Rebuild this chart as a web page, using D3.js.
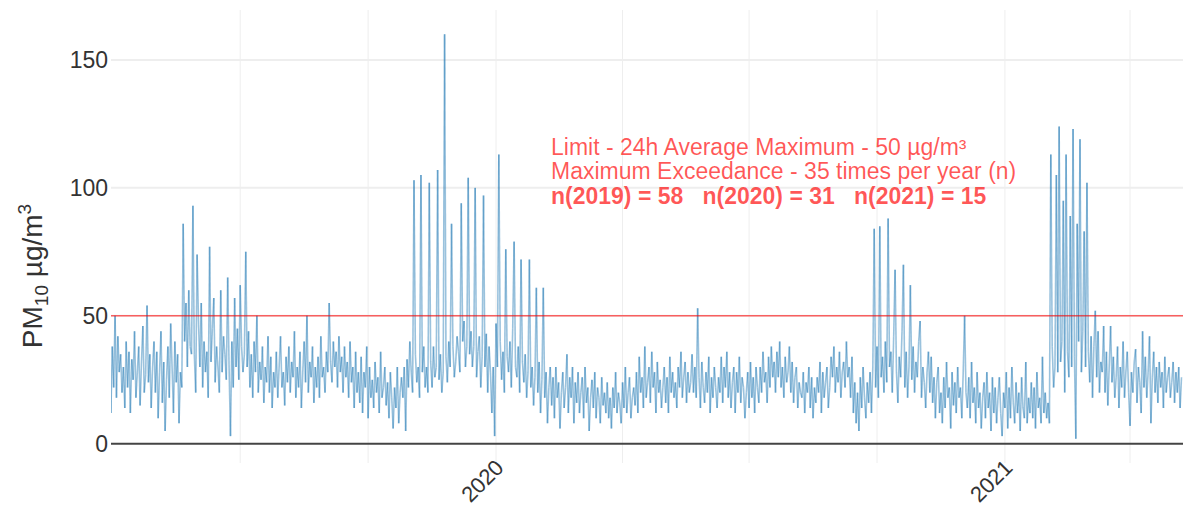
<!DOCTYPE html>
<html>
<head>
<meta charset="utf-8">
<script src="https://cdn.jsdelivr.net/npm/d3@7"></script>
<style>
  body { margin: 0; background: #fff; }
  text { font-family: "Liberation Sans", Arial, sans-serif; }
</style>
</head>
<body>
<div id="chart"></div>
<script>
// daily PM10 means in µg/m³, the first value is the 29th of March 2019
var startDate = new Date(2019, 2, 29);

var pm10_2019 = [
  56, 12, 38, 22, 50, 18, 42, 28, 35, 20,
  30, 14, 40, 22, 36, 12, 33, 25, 44, 18,
  28, 38, 15, 32, 46, 20, 27, 54, 24, 35,
  14, 30, 40, 20, 36, 10, 28, 44, 16, 32,
  5, 25, 38, 18, 47, 30, 12, 40, 24, 35,
  8, 28, 22, 86, 40, 55, 30, 60, 38, 35,
  93, 35, 20, 74, 48, 30, 55, 22, 40, 28,
  36, 18, 77, 32, 45, 57, 24, 38, 30, 20,
  60, 28, 42, 35, 25, 65, 30, 3, 40, 22,
  57, 30, 45, 25, 62, 38, 28, 35, 75, 30,
  44, 22, 35, 18, 40, 28, 50, 20, 32, 25,
  38, 16, 30, 24, 42, 20, 34, 14, 28, 22,
  36, 18, 30, 42, 22, 28, 15, 34, 24, 38,
  20, 32, 26, 44, 18, 30, 22, 36, 14, 28,
  40, 24, 50, 20, 32, 26, 38, 16, 30, 22,
  34, 18, 42, 26, 30, 20, 36, 28, 55, 32,
  24, 40, 30, 36, 22, 42, 28, 34, 20, 38,
  26, 32, 18, 40, 24, 30, 14, 36, 20, 28,
  16, 34, 12, 28, 22, 38, 10, 30, 18, 25,
  14, 32, 20, 26, 12, 36, 18, 22, 30, 15,
  24, 10, 28, 18, 6, 22, 14, 30, 8, 20,
  26, 18, 30, 5, 33, 22, 40, 28, 20, 103,
  35, 24, 30, 18, 105, 28, 38, 22, 30, 20,
  102, 32, 22, 38, 26, 30, 107, 25, 35, 20,
  28, 160, 34, 24, 40, 30, 86, 38, 26, 32,
  42, 36, 28, 94, 40, 48, 30, 38, 104, 35,
  44, 30, 38, 100, 26, 36, 42, 22, 34, 97,
  30, 43, 20, 38, 28, 12, 30, 3
];

var pm10_2020 = [
  47, 30, 113, 40, 25, 36, 20, 76, 34, 28,
  40, 22, 45, 79, 30, 26, 38, 20, 72, 32,
  24, 35, 18, 28, 72, 22, 30, 15, 26, 61,
  20, 32, 12, 25, 61, 18, 28, 8, 22, 30,
  15, 26, 10, 30, 18, 24, 6, 20, 28, 14,
  22, 35, 12, 26, 18, 30, 8, 24, 16, 28,
  12, 20, 26, 10, 30, 16, 22, 5, 18, 25,
  14, 28, 10, 22, 18, 8, 26, 15, 20, 12,
  24, 10, 18, 6, 22, 14, 28, 12, 20, 16,
  8, 24, 14, 30, 12, 20, 26, 10, 18, 22,
  15, 28, 12, 34, 20, 26, 14, 38, 18, 24,
  30, 16, 36, 22, 28, 12, 32, 20, 25, 14,
  22, 30, 16, 26, 12, 34, 20, 28, 18, 24,
  14, 30, 22, 36, 18, 26, 32, 16, 28, 20,
  24, 35, 20, 30, 18, 53, 26, 14, 32, 22,
  16, 28, 20, 34, 12, 26, 18, 30, 22, 14,
  26, 20, 34, 16, 30, 22, 36, 18, 28, 14,
  24, 30, 12, 28, 20, 34, 16, 26, 22, 10,
  20, 28, 14, 32, 18, 26, 12, 30, 22, 16,
  30, 20, 36, 24, 28, 16, 34, 22, 38, 26,
  32, 20, 36, 26, 40, 22, 30, 18, 34, 24,
  28, 38, 20, 32, 16, 26, 30, 14, 24, 20,
  18, 28, 12, 24, 20, 30, 14, 26, 10, 22,
  16, 26, 20, 32, 12, 28, 18, 24, 30, 14,
  22, 34, 26, 38, 20, 30, 24, 36, 18, 28,
  32, 22, 40, 26, 30, 18, 34, 12, 24, 8,
  20, 5, 26, 14, 30, 18, 10, 24, 16, 28,
  12, 30, 84, 22, 38, 18, 85, 26, 34, 20,
  40, 24, 88, 30, 36, 20, 42, 68, 28, 16,
  34, 26, 44, 70, 22, 36, 18, 30, 62, 25,
  38, 20, 32, 26, 40, 48, 18, 30, 24, 14,
  28, 36, 20, 34, 16, 26, 10, 24, 30, 12,
  20, 8, 26, 14, 32, 18, 22, 6, 28, 15,
  24, 12, 30, 18, 22, 10, 28, 50, 20, 14,
  26, 10, 32, 16, 22, 8, 28, 14, 20, 6,
  18, 24, 10, 28, 14, 20, 5, 26, 12, 22,
  8, 18, 26, 12, 3, 20
];

var pm10_2021 = [
  14, 28, 6, 22, 10, 30, 16, 8, 24, 12,
  20, 5, 26, 14, 10, 32, 8, 18, 12, 24,
  10, 22, 6, 28, 14, 18, 8, 34, 12, 20,
  10, 16, 8, 113, 38, 22, 30, 105, 28, 124,
  32, 40, 95, 20, 113, 36, 26, 89, 30, 123,
  34, 2, 86, 40, 119, 28, 44, 83, 30, 102,
  36, 24, 42, 18, 38, 52, 26, 44, 20, 32,
  28, 46, 20, 36, 15, 30, 46, 24, 34, 18,
  26, 38, 14, 30, 22, 40, 18, 28, 36, 20,
  7, 28, 20, 32, 37, 16, 30, 24, 12, 44,
  22, 34, 18, 28, 42, 8, 26, 36, 20, 30,
  16, 32, 22, 28, 14, 34, 20, 26, 30, 18,
  24, 32, 16, 28, 20, 30, 14, 26
];

var yTicks = [0, 50, 100, 150];
var limitValue = 50;
var noteLines = [
  "Limit - 24h Average Maximum - 50 µg/m³",
  "Maximum Exceedance - 35 times per year (n)",
  "n(2019) = 58   n(2020) = 31   n(2021) = 15"
];

var data = null;

function buildData() {
  // one point per day
  data = pm10_2019.concat(pm10_2020, pm10_2021).map(function(v, i) {
    return { date: d3.timeDay.offset(startDate, i), value: v };
  });
}

function displayChart() {
  var width = 1183,
      height = 506;

  var left = 111, right = 1183, top = 10, bottom = 463;

  var x = d3.scaleTime()
      .domain([startDate, data[data.length - 1].date])
      .range([109.5, 1181.5]);

  var y = d3.scaleLinear()
      .domain([-7.5, 169.5])
      .range([bottom, top]);

  var svg = d3.select("#chart").append("svg")
      .attr("width", width)
      .attr("height", height);

  svg.append("defs").append("clipPath")
      .attr("id", "plotClip")
    .append("rect")
      .attr("x", left)
      .attr("y", top)
      .attr("width", right - left)
      .attr("height", bottom - top);

  // vertical grid, every 3 months
  var xTicks = x.ticks(d3.timeMonth.every(3)).filter(function(d) { return x(d) > left + 5; });

  svg.append("g")
    .selectAll("line")
      .data(xTicks)
    .enter().append("line")
      .attr("x1", d => x(d))
      .attr("x2", d => x(d))
      .attr("y1", top)
      .attr("y2", bottom)
      .style("stroke", "#eee")
      .style("stroke-width", 1);

  svg.append("g")
    .selectAll("line")
      .data(yTicks.filter(d => d > 0))
    .enter().append("line")
      .attr("x1", left)
      .attr("x2", right)
      .attr("y1", d => y(d))
      .attr("y2", d => y(d))
      .style("stroke", "#eee")
      .style("stroke-width", 2);

  // the series, drawn segment by segment so that overlaps get darker
  var pairs = d3.pairs(data);

  svg.append("g")
      .attr("clip-path", "url(#plotClip)")
    .selectAll("line")
      .data(pairs)
    .enter().append("line")
      .attr("x1", d => x(d[0].date))
      .attr("y1", d => y(d[0].value))
      .attr("x2", d => x(d[1].date))
      .attr("y2", d => y(d[1].value))
      .style("stroke", "#1f77b4")
      .style("stroke-opacity", 0.45)
      .style("stroke-width", 1.6);

  // zero line
  svg.append("line")
      .attr("x1", left)
      .attr("x2", right)
      .attr("y1", y(0))
      .attr("y2", y(0))
      .style("stroke", "#444")
      .style("stroke-width", 2);

  // limit line
  svg.append("line")
      .attr("x1", left)
      .attr("x2", right)
      .attr("y1", y(limitValue))
      .attr("y2", y(limitValue))
      .style("stroke", "rgba(255,0,0,0.6)")
      .style("stroke-width", 1.5);

  // y tick labels
  svg.append("g")
    .selectAll("text")
      .data(yTicks)
    .enter().append("text")
      .attr("x", 108)
      .attr("y", d => y(d))
      .attr("dy", "0.35em")
      .attr("text-anchor", "end")
      .style("font-size", "23px")
      .style("fill", "#333")
      .text(d => d);

  // x tick labels, only the years
  svg.append("g")
    .selectAll("text")
      .data(xTicks.filter(d => d.getMonth() == 0))
    .enter().append("text")
      .attr("transform", d => `translate(${x(d) + 9},469) rotate(-45)`)
      .attr("text-anchor", "end")
      .style("font-size", "22px")
      .style("fill", "#333")
      .text(d => d3.timeFormat("%Y")(d));

  // y title with the subscript and superscript
  var title = svg.append("text")
      .attr("transform", "translate(42,276) rotate(-90)")
      .attr("text-anchor", "middle")
      .style("font-size", "28px")
      .style("fill", "#333");
  title.append("tspan").text("PM");
  title.append("tspan").attr("dy", 6).style("font-size", "19px").text("10");
  title.append("tspan").attr("dy", -6).text(" µg/m");
  title.append("tspan").attr("dy", -11).style("font-size", "19px").text("3");

  // annotation
  svg.append("g")
    .selectAll("text")
      .data(noteLines)
    .enter().append("text")
      .attr("x", 551)
      .attr("y", (d, i) => 155 + i * 24.3)
      .style("font-size", "23px")
      .style("white-space", "pre")
      .style("font-weight", (d, i) => i == 2 ? "bold" : "normal")
      .style("fill", "rgba(255,0,0,0.66)")
      .text(d => d);
}

buildData();
displayChart();
</script>
</body>
</html>
